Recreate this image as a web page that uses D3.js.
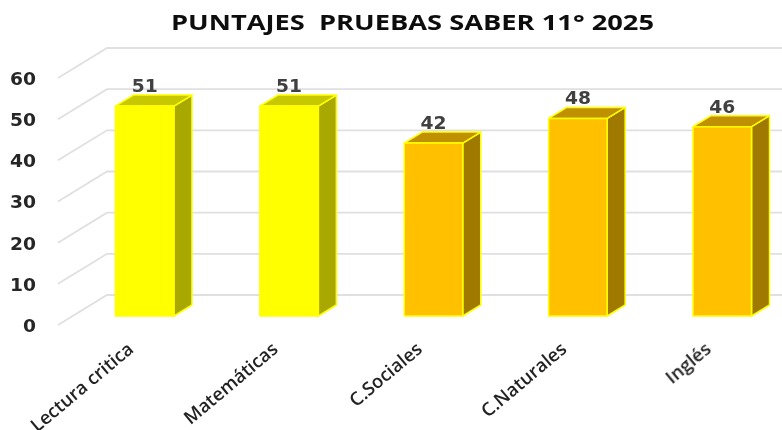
<!DOCTYPE html>
<html lang="es">
<head>
    <meta charset="UTF-8">
    <title>Puntajes Pruebas Saber 11 2025</title>
    <script src="https://d3js.org/d3.v7.min.js"></script>
    <style>
        html, body { margin: 0; padding: 0; background: #fff; }
        svg { display: block; }
        .title { font-family: "Open Sans", sans-serif; font-weight: 700; font-size: 21px; fill: #111; }
        .tick text { font-family: "DejaVu Sans", sans-serif; font-weight: 700; font-size: 17px; fill: #262626; }
        .catLabel { font-family: "Open Sans", sans-serif; font-weight: 600; font-size: 18.5px; fill: #222; }
        .valueLabel { font-family: "DejaVu Sans", sans-serif; font-weight: 700; font-size: 17px; fill: #404040; }
    </style>
</head>
<body>
    <svg width="782" height="430"></svg>
    <script>
        const categories = ["Lectura critica", "Matemáticas", "C.Sociales", "C.Naturales", "Inglés"];
        const scores = [51, 51, 42, 48, 46];
        const yTicks = [0, 10, 20, 30, 40, 50, 60];
        const palette = [
            { front: "#ffff00", top: "#c8c800", side: "#a8a800" },
            { front: "#ffff00", top: "#c8c800", side: "#a8a800" },
            { front: "#ffc000", top: "#bf9000", side: "#a07a00" },
            { front: "#ffc000", top: "#bf9000", side: "#a07a00" },
            { front: "#ffc000", top: "#bf9000", side: "#a07a00" }
        ];

        const width = 782, height = 430;
        const svg = d3.select("svg");

        // back wall of the fake 3d box
        const yBack = d3.scaleLinear().domain([0, 60]).range([295, 48]);
        const x = d3.scaleBand().domain(categories).range([72.5, 794.5]).paddingInner(0.595).paddingOuter(0.2975);

        // depth offsets, measured from the back wall
        const wall = { dx: -49, dy: 30 };
        const barFront = 21, barBack = 10, barDepth = 18;

        const defs = svg.append("defs");
        defs.append("filter").attr("id", "soft")
            .append("feGaussianBlur").attr("stdDeviation", 0.35);

        const root = svg.append("g").attr("filter", "url(#soft)");

        // the original text is stretched wide, so force the measured widths
        root.append("text")
            .attr("class", "title")
            .attr("x", 412.5)
            .attr("y", 30)
            .attr("text-anchor", "middle")
            .attr("textLength", 483)
            .attr("lengthAdjust", "spacingAndGlyphs")
            .style("white-space", "pre")
            .text("PUNTAJES  PRUEBAS SABER 11° 2025");

        // gridlines on back wall + side wall
        const grid = root.append("g");
        grid.selectAll("path")
            .data(yTicks)
            .enter()
            .append("path")
            .attr("d", d => `M${107 + wall.dx},${yBack(d) + wall.dy}L107,${yBack(d)}L${width},${yBack(d)}`)
            .attr("fill", "none")
            .attr("stroke", "#e0e0e0")
            .attr("stroke-width", 1.8);

        // tick labels through the axis, shifted to the front of the side wall
        const axisG = root.append("g")
            .attr("transform", `translate(36,${wall.dy + 1})`)
            .call(d3.axisLeft(yBack).tickValues(yTicks).tickSize(0).tickPadding(0).tickFormat(d3.format("d")));
        axisG.select(".domain").remove();
        axisG.selectAll(".tick text")
            .attr("textLength", d => d === 0 ? 13 : 26)
            .attr("lengthAdjust", "spacingAndGlyphs");

        // bars: side, top, front
        const bars = root.selectAll(".bar")
            .data(categories.map((c, i) => ({ name: c, value: scores[i], colors: palette[i] })))
            .enter()
            .append("g")
            .attr("class", "bar");

        bars.append("path")
            .attr("d", d => {
                const r = x(d.name) + x.bandwidth();
                const t = yBack(d.value) + barFront, b = yBack(0) + barFront, o = barFront - barBack;
                return `M${r},${t}L${r + barDepth},${t - o}L${r + barDepth},${b - o}L${r},${b}Z`;
            })
            .attr("fill", d => d.colors.side);

        bars.append("path")
            .attr("d", d => {
                const l = x(d.name), r = l + x.bandwidth();
                const t = yBack(d.value) + barFront, o = barFront - barBack;
                return `M${l},${t}L${l + barDepth},${t - o}L${r + barDepth},${t - o}L${r},${t}Z`;
            })
            .attr("fill", d => d.colors.top);

        bars.append("rect")
            .attr("x", d => x(d.name))
            .attr("y", d => yBack(d.value) + barFront)
            .attr("width", x.bandwidth())
            .attr("height", d => yBack(0) - yBack(d.value))
            .attr("fill", d => d.colors.front);

        bars.selectAll("path, rect")
            .attr("stroke", "#ffff00")
            .attr("stroke-width", 1.5)
            .attr("stroke-linejoin", "round");

        root.selectAll(".valueLabel")
            .data(scores)
            .enter()
            .append("text")
            .attr("class", "valueLabel")
            .attr("x", (d, i) => x(categories[i]) + x.bandwidth() / 2)
            .attr("y", d => yBack(d) + barFront - 14)
            .attr("text-anchor", "middle")
            .attr("textLength", 26)
            .attr("lengthAdjust", "spacingAndGlyphs")
            .text(d => d);

        root.selectAll(".catLabel")
            .data(categories)
            .enter()
            .append("text")
            .attr("class", "catLabel")
            .attr("text-anchor", "end")
            .attr("transform", d => `translate(${x(d) + x.bandwidth() / 2 - 10},${351}) rotate(-40)`)
            .text(d => d);
    </script>
</body>
</html>
